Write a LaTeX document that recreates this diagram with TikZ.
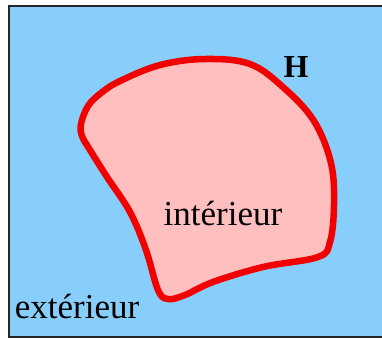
\documentclass[tikz,border=0pt]{standalone}
\usepackage{fontspec}
\setmainfont{Liberation Serif}
\usepackage{tikz}
\definecolor{skyblue}{HTML}{87CEFA}
\definecolor{regionpink}{HTML}{FFBFBF}
\definecolor{borderred}{HTML}{F20000}
\tikzset{
  label/.style={inner sep=0pt, anchor=base, font=\fontsize{35}{40}\selectfont},
}
\begin{document}
\begin{tikzpicture}[x=1pt, y=-1pt]
    \useasboundingbox (0,0) rectangle (382,338);
    % background
    \begin{scope}
      \clip (0,0) rectangle (382,338);
      \draw[fill=skyblue, draw=black!85, line width=2pt] (9,6) rectangle (390,337);
    \end{scope}

    % the region and its border H
    \draw[fill=regionpink, draw=borderred, line width=6.5pt, line join=round]
      plot[smooth cycle, tension=0.6] coordinates {
        (81,124) (88,106) (101,93) (120,81) (160,65) (205,59) (250,64)
        (284,88) (314,121) (331,163) (334,205) (330,242) (318,257) (263,267)
        (213,282) (185,295) (168,299) (158,290) (146,250) (130,212) (107,177)
        (90,150) (82,136)
      };

    \node[label] (interieur) at (223,225) {intérieur};
    \node[label] (exterieur) at (77,318) {extérieur};
    \node[label, font=\fontsize{32}{36}\selectfont\bfseries] (bordH) at (296,77) {H};
  \end{tikzpicture}
\end{document}
